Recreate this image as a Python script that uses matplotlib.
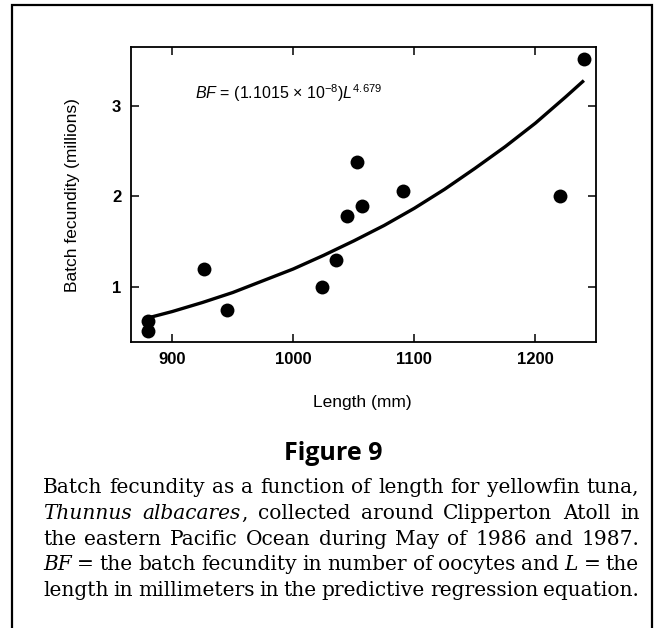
import matplotlib
matplotlib.use("Agg")
import matplotlib.pyplot as plt
from matplotlib.patches import Rectangle

# observed fish: length (mm) and batch fecundity (millions of oocytes)
length_mm = [880, 880, 926, 945, 1024, 1035, 1044, 1053, 1057, 1091, 1220, 1240]
batch_fecundity = [0.63, 0.51, 1.20, 0.75, 1.00, 1.30, 1.79, 2.38, 1.89, 2.06, 2.01, 3.52]

# regression curve
fit_length = [880, 900, 925, 950, 975, 1000, 1025, 1050, 1075, 1100, 1125, 1150, 1175, 1200, 1225, 1240]
fit_bf = [0.66, 0.73, 0.83, 0.94, 1.07, 1.20, 1.35, 1.51, 1.68, 1.87, 2.08, 2.31, 2.55, 2.81, 3.10, 3.28]

x_ticks = [900, 1000, 1100, 1200]
y_ticks = [1, 2, 3]

caption = [
    [("Batch", 0), ("fecundity", 0), ("as", 0), ("a", 0), ("function", 0), ("of", 0), ("length", 0),
     ("for", 0), ("yellowfin", 0), ("tuna,", 0)],
    [("Thunnus", 1), ("albacares", 1), (",", 0), ("collected", 0), ("around", 0), ("Clipperton", 0),
     ("Atoll", 0), ("in", 0)],
    [("the", 0), ("eastern", 0), ("Pacific", 0), ("Ocean", 0), ("during", 0), ("May", 0), ("of", 0),
     ("1986", 0), ("and", 0), ("1987.", 0)],
    [("BF", 1), ("=", 0), ("the", 0), ("batch", 0), ("fecundity", 0), ("in", 0), ("number", 0), ("of", 0),
     ("oocytes", 0), ("and", 0), ("L", 1), ("=", 0), ("the", 0)],
    [("length", 0), ("in", 0), ("millimeters", 0), ("in", 0), ("the", 0), ("predictive", 0),
     ("regression", 0), ("equation.", 0)],
]

plt.rcParams["font.family"] = ["Liberation Sans", "DejaVu Sans"]
plt.rcParams["mathtext.fontset"] = "custom"
plt.rcParams["mathtext.rm"] = "Liberation Sans"
plt.rcParams["mathtext.it"] = "Liberation Sans:italic"

W, H = 655, 628
fig = plt.figure(figsize=(W / 100, H / 100), dpi=100)

# outer frame round the whole figure panel
fig.patches.append(Rectangle((12 / W, -0.05), 640 / W, 1.05 - 5 / H, transform=fig.transFigure,
                             fill=False, edgecolor="black", linewidth=1.6))

ax = fig.add_axes([131 / W, 1 - 342 / H, 465 / W, 295 / H])
ax.scatter(length_mm, batch_fecundity, s=100, color="black", zorder=3, linewidths=0)
ax.plot(fit_length, fit_bf, color="black", linewidth=2.4, solid_capstyle="butt")

ax.set_xlim(866, 1250)
ax.set_ylim(0.394, 3.65)
ax.set_xticks(x_ticks)
ax.set_yticks(y_ticks)
ax.tick_params(direction="in", length=6, width=1.1, top=True, right=True, labelsize=12, pad=7)
for lab in ax.get_xticklabels() + ax.get_yticklabels():
    lab.set_fontweight("bold")
for sp in ax.spines.values():
    sp.set_linewidth(1.3)

ax.text(0.138, 0.845, r"$\it{BF}$ = (1.1015 × 10$^{-8}$)$\it{L}^{4.679}$", transform=ax.transAxes,
        fontsize=11.5, ha="left", va="center")

fig.text(72 / W, 1 - 195 / H, "Batch fecundity (millions)", rotation=90, ha="center", va="center",
         fontsize=12.5)
fig.text(362 / W, 1 - 403 / H, "Length (mm)", ha="center", va="center", fontsize=12.5)
fig.text(333 / W, 1 - 453 / H, "Figure 9", ha="center", va="center", fontsize=18,
         fontweight="bold", family=["Open Sans", "DejaVu Sans"])

# justified caption, word by word
fig.canvas.draw()
renderer = fig.canvas.get_renderer()
x_left, x_right = 43, 639
for i, line in enumerate(caption):
    y = 1 - (493 + 25.8 * i) / H
    texts = []
    for word, italic in line:
        t = fig.text(0, y, word, ha="left", va="baseline", fontsize=14.5,
                     style="italic" if italic else "normal", family=["DejaVu Serif"])
        texts.append(t)
    widths = [t.get_window_extent(renderer).width for t in texts]
    gaps = []
    for j in range(len(line) - 1):
        gaps.append(0.0 if line[j + 1][0] == "," else 1.0)
    spare = (x_right - x_left) - sum(widths)
    unit = spare / sum(gaps)
    x = x_left
    for j, t in enumerate(texts):
        t.set_x(x / W)
        if j < len(gaps):
            x += widths[j] + (unit * gaps[j] if gaps[j] else 1)

fig.savefig("out.png", dpi=100)
